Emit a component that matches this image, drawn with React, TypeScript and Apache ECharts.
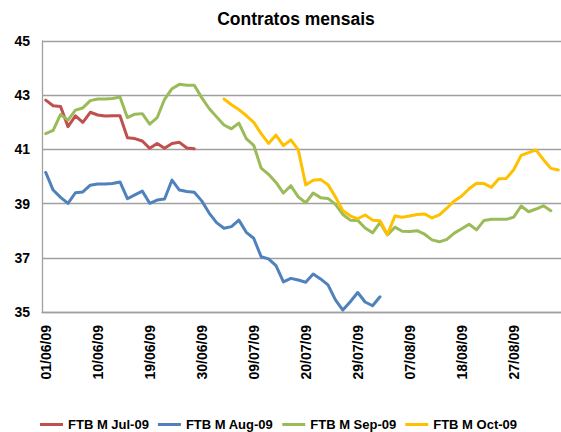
import React, { useEffect, useRef } from "react";
import * as echarts from "echarts";

const categories = [
  "01/06/09","02/06/09","03/06/09","04/06/09","05/06/09","08/06/09","09/06/09","10/06/09","11/06/09","12/06/09",
  "15/06/09","16/06/09","17/06/09","18/06/09","19/06/09","22/06/09","23/06/09","24/06/09","25/06/09","26/06/09",
  "29/06/09","30/06/09","01/07/09","02/07/09","03/07/09","06/07/09","07/07/09","08/07/09","09/07/09","10/07/09",
  "13/07/09","14/07/09","15/07/09","16/07/09","17/07/09","20/07/09","21/07/09","22/07/09","23/07/09","24/07/09",
  "27/07/09","28/07/09","29/07/09","30/07/09","31/07/09","03/08/09","04/08/09","05/08/09","06/08/09","07/08/09",
  "10/08/09","11/08/09","12/08/09","13/08/09","14/08/09","17/08/09","18/08/09","19/08/09","20/08/09","21/08/09",
  "24/08/09","25/08/09","26/08/09","27/08/09","28/08/09","31/08/09","01/09/09","02/09/09","03/09/09","04/09/09",
];

const julValues = [
  42.82, 42.61, 42.58, 41.84, 42.24, 42.0, 42.37, 42.27, 42.23, 42.24,
  42.24, 41.43, 41.40, 41.31, 41.04, 41.22, 41.04, 41.22, 41.26, 41.05,
  41.02,
];

const augValues = [
  40.15, 39.50, 39.23, 39.01, 39.40, 39.43, 39.68, 39.72, 39.72, 39.74,
  39.80, 39.18, 39.32, 39.46, 39.01, 39.13, 39.17, 39.87, 39.50, 39.45,
  39.42, 39.10, 38.65, 38.30, 38.09, 38.15, 38.39, 37.94, 37.72, 37.04,
  36.96, 36.71, 36.11, 36.24, 36.18, 36.10, 36.40, 36.22, 36.00, 35.45,
  35.07, 35.38, 35.72, 35.37, 35.23, 35.56,
];

const sepValues = [
  41.58, 41.70, 42.29, 42.08, 42.45, 42.53, 42.80, 42.86, 42.86, 42.88,
  42.93, 42.17, 42.30, 42.32, 41.93, 42.17, 42.85, 43.24, 43.40, 43.37,
  43.37, 42.91, 42.51, 42.20, 41.90, 41.76, 41.97, 41.40, 41.15, 40.31,
  40.08, 39.78, 39.39, 39.66, 39.25, 39.03, 39.39, 39.22, 39.19, 38.97,
  38.60, 38.39, 38.38, 38.10, 37.92, 38.30, 37.84, 38.13, 37.98, 37.97,
  38.00, 37.87, 37.66, 37.59, 37.68, 37.91, 38.07, 38.24, 38.03, 38.38,
  38.42, 38.42, 38.42, 38.50, 38.91, 38.70, 38.80, 38.92, 38.74,
];

// Oct-09 starts trading at category index 24
const octStart = 24;
const octValues = [
  42.86, 42.65, 42.47, 42.25, 42.00, 41.58, 41.22, 41.53, 41.14, 41.35,
  40.98, 39.69, 39.86, 39.89, 39.70, 39.24, 38.74, 38.55, 38.44, 38.58,
  38.39, 38.37, 37.86, 38.54, 38.50, 38.54, 38.60, 38.62, 38.47, 38.58,
  38.83, 39.10, 39.28, 39.55, 39.75, 39.74, 39.60, 39.92, 39.93, 40.25,
  40.78, 40.88, 40.98, 40.62, 40.30, 40.24,
];

const seriesNames = ["FTB M Jul-09", "FTB M Aug-09", "FTB M Sep-09", "FTB M Oct-09"];
const seriesColors = ["#C0504D", "#4F81BD", "#9BBB59", "#FFC000"];
const yTicks = { min: 35, max: 45, interval: 2 };

function pad(values: number[], start: number): (number | null)[] {
  const out: (number | null)[] = [];
  for (let i = 0; i < categories.length; i++) {
    const k = i - start;
    out.push(k >= 0 && k < values.length ? values[k] : null);
  }
  return out;
}

export default function App() {
  const ref = useRef<HTMLDivElement>(null);
  useEffect(() => {
    if (!ref.current) return;
    const chart = echarts.init(ref.current, null, { renderer: "svg" });
    const font = "'Liberation Sans', Arial, sans-serif";
    const data = [pad(julValues, 0), pad(augValues, 0), pad(sepValues, 0), pad(octValues, octStart)];
    chart.setOption({
      animation: false,
      backgroundColor: "#ffffff",
      title: {
        text: "Contratos mensais",
        left: 291,
        top: 5,
        textAlign: "center",
        textStyle: { fontFamily: font, fontWeight: "bold", fontSize: 17.5, color: "#000" },
      },
      legend: {
        data: seriesNames,
        left: 35,
        top: 413,
        itemWidth: 23,
        itemHeight: 3,
        itemGap: 9,
        icon: "rect",
        textStyle: { fontFamily: font, fontWeight: "bold", fontSize: 13, color: "#000" },
      },
      grid: {
        left: 42,
        top: 41,
        width: 520,
        height: 271,
        containLabel: false,
        outerBoundsMode: "none",
      },
      xAxis: {
        type: "category",
        data: categories,
        boundaryGap: true,
        axisLine: { show: true, lineStyle: { color: "#a0a0a0", width: 1.3 } },
        axisTick: { show: false },
        axisLabel: {
          interval: 6,
          rotate: 90,
          margin: 13,
          fontFamily: font,
          fontWeight: "bold",
          fontSize: 14,
          color: "#000",
        },
        splitLine: { show: false },
      },
      yAxis: {
        type: "value",
        min: yTicks.min,
        max: yTicks.max,
        interval: yTicks.interval,
        axisLine: { show: true, lineStyle: { color: "#a0a0a0", width: 1.3 } },
        axisTick: { show: false },
        axisLabel: {
          margin: 12,
          fontFamily: font,
          fontWeight: "bold",
          fontSize: 14,
          color: "#000",
        },
        splitLine: { show: true, lineStyle: { color: "#a0a0a0", width: 1.3 } },
      },
      series: seriesNames.map((name, i) => ({
        name,
        type: "line",
        data: data[i],
        showSymbol: false,
        symbol: "none",
        connectNulls: false,
        color: seriesColors[i],
        lineStyle: { color: seriesColors[i], width: 3, join: "round", cap: "round" },
      })),
    });
    return () => chart.dispose();
  }, []);
  return (
    <div
      ref={ref}
      style={{ position: "fixed", left: 0, top: 0, width: 561, height: 432 }}
    />
  );
}
